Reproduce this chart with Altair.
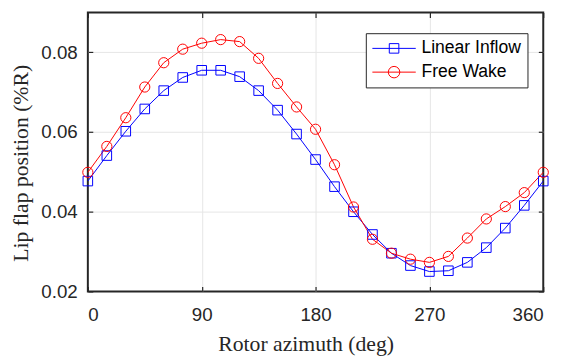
import altair as alt
import pandas as pd

# ---- data ----
azimuth = list(range(0, 361, 15))
linear_inflow = [0.0477, 0.0541, 0.0602, 0.0658, 0.0704, 0.0737, 0.0755, 0.0755,
                 0.0739, 0.0704, 0.0655, 0.0595, 0.0531, 0.0463, 0.0400, 0.0343,
                 0.0296, 0.0265, 0.0250, 0.0252, 0.0273, 0.0310, 0.0359, 0.0416, 0.0477]
free_wake = [0.0499, 0.0564, 0.0636, 0.0713, 0.0774, 0.0808, 0.0823, 0.0832,
             0.0827, 0.0785, 0.0722, 0.0663, 0.0607, 0.0518, 0.0412, 0.0331,
             0.0296, 0.0281, 0.0273, 0.0288, 0.0334, 0.0382, 0.0413, 0.0448, 0.0499]
series_names = ["Linear Inflow", "Free Wake"]
series_colors = ["#0000ff", "#ff0000"]
x_ticks = [0, 90, 180, 270, 360]
y_ticks = [0.02, 0.04, 0.06, 0.08]
x_grid = [90, 180, 270]
y_grid = [0.04, 0.06, 0.08]

df = pd.DataFrame({
    "azimuth": azimuth * 2,
    "pos": linear_inflow + free_wake,
    "series": [series_names[0]] * len(azimuth) + [series_names[1]] * len(azimuth),
})

FRAME = "#262626"
GRID = "#e6e6e6"
xs = alt.Scale(domain=[0, 360], nice=False, zero=False)
ys = alt.Scale(domain=[0.02, 0.09], nice=False, zero=False)

# legend symbols: line through marker
legend_paths = [
    "M-4,0H4M-0.88,-0.88H0.88V0.88H-0.88Z",
    "M-4,0H4M-1.06,0A1.06,1.06,0,1,0,1.06,0A1.06,1.06,0,1,0,-1.06,0Z",
]

grid_x = alt.Axis(orient="bottom", values=x_grid, grid=True, gridColor=GRID, gridWidth=1,
                  ticks=False, labels=False, domain=False, title=None)
grid_y = alt.Axis(orient="left", values=y_grid, grid=True, gridColor=GRID, gridWidth=1,
                  ticks=False, labels=False, domain=False, title=None)

label_x = alt.Axis(orient="bottom", values=x_ticks, format="d", grid=False, ticks=False,
                   tickSize=0, domain=False, labelFont="Liberation Sans", labelFontSize=19,
                   labelColor=FRAME, labelPadding=14, title="Rotor azimuth (deg)",
                   titleFont="Liberation Serif", titleFontSize=22, titleFontWeight="normal",
                   titleColor=FRAME, titleX=221, titleY=59.5, titleBaseline="alphabetic",
                   titleAlign="center", titleAngle=0)
label_y = alt.Axis(orient="left", values=y_ticks, format=".2f", grid=False, ticks=False,
                   tickSize=0, domain=False, labelFont="Liberation Sans", labelFontSize=19,
                   labelColor=FRAME, labelPadding=10.7, title="Lip flap position (%R)",
                   titleFont="Liberation Serif", titleFontSize=22, titleFontWeight="normal",
                   titleColor=FRAME, titleX=-61, titleY=152.5, titleBaseline="alphabetic",
                   titleAlign="center", titleAngle=270)


def tick_axis(orient, vals):
    return alt.Axis(orient=orient, values=vals, grid=False, labels=False, domain=False,
                    ticks=True, tickSize=5, tickColor=FRAME, tickWidth=1.2, offset=-5,
                    title=None)


def enc(axis_x, axis_y):
    return dict(
        x=alt.X("azimuth:Q", scale=xs, axis=axis_x),
        y=alt.Y("pos:Q", scale=ys, axis=axis_y),
    )


base = alt.Chart(df)

blue_line = base.transform_filter(alt.datum.series == series_names[0]).mark_line(
    color=series_colors[0], strokeWidth=1).encode(**enc(grid_x, grid_y))
red_line = base.transform_filter(alt.datum.series == series_names[1]).mark_line(
    color=series_colors[1], strokeWidth=1).encode(**enc(label_x, label_y))
blue_pts = base.transform_filter(alt.datum.series == series_names[0]).mark_point(
    shape="square", size=94, filled=False, color=series_colors[0], strokeWidth=1,
    opacity=1).encode(**enc(tick_axis("bottom", x_ticks), tick_axis("left", y_ticks)))
red_pts = base.transform_filter(alt.datum.series == series_names[1]).mark_point(
    shape="circle", size=107, filled=False, color=series_colors[1], strokeWidth=1,
    opacity=1).encode(**enc(tick_axis("top", x_ticks), tick_axis("right", y_ticks)))

leg = alt.Legend(title=None, orient="none", legendX=282, legendY=21, padding=6.5,
                 rowPadding=5.1, symbolSize=121, symbolStrokeWidth=1, symbolOffset=13.25,
                 labelOffset=18.9, labelFont="Liberation Sans", labelFontSize=17.8,
                 labelColor="black", strokeColor=FRAME, fillColor="white", cornerRadius=0)

legend_layer = base.transform_filter("false").mark_point(
    filled=False, size=121, strokeWidth=1, opacity=1).encode(
    x=alt.X("azimuth:Q", scale=xs, axis=None),
    y=alt.Y("pos:Q", scale=ys, axis=None),
    color=alt.Color("series:N", scale=alt.Scale(domain=series_names, range=series_colors),
                    legend=leg),
    shape=alt.Shape("series:N", scale=alt.Scale(domain=series_names, range=legend_paths),
                    legend=leg),
)

chart = alt.layer(blue_line, red_line, blue_pts, red_pts, legend_layer).resolve_axis(
    x="independent", y="independent"
).properties(
    width=462, height=283,
    autosize=alt.AutoSizeParams(type="none"),
    padding={"left": 81, "top": 2, "right": 18, "bottom": 70},
    background="white",
).configure_view(stroke=FRAME, strokeWidth=2)

chart.save("out.html", embed_options={"renderer": "svg", "actions": False})
